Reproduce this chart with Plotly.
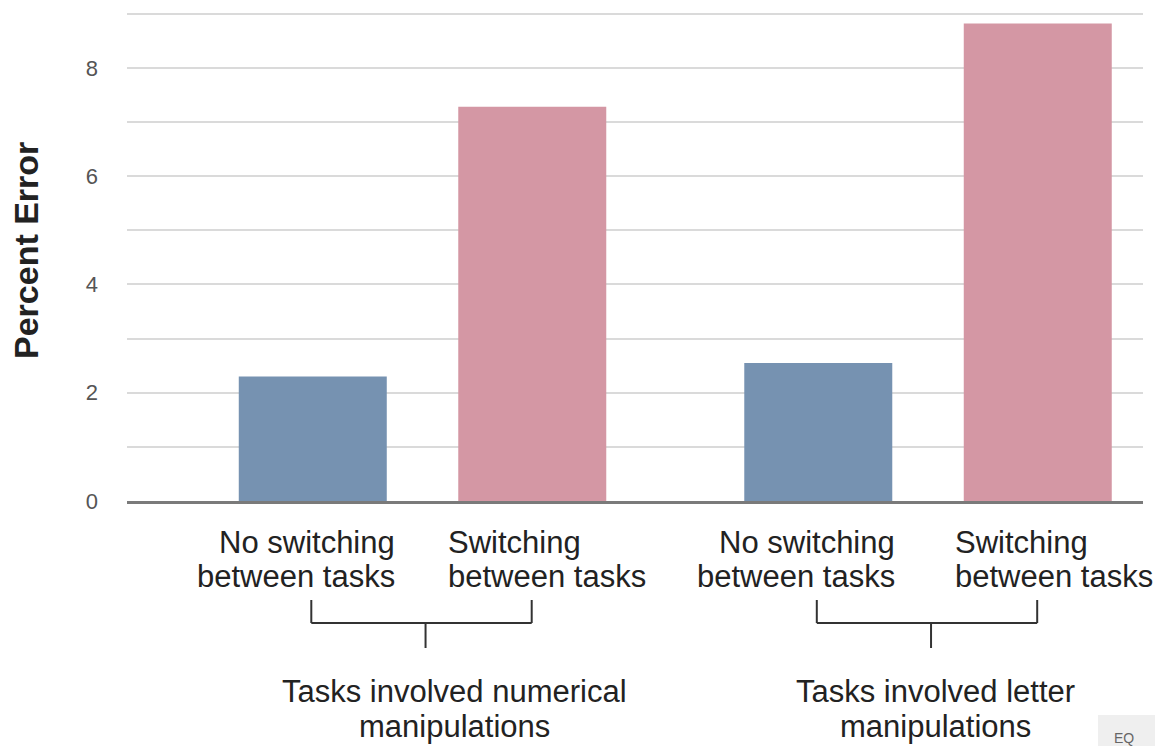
import plotly.graph_objects as go

# ---- data ----
groups = ["Tasks involved numerical manipulations", "Tasks involved letter manipulations"]
group_lines = [["Tasks involved numerical", "manipulations"], ["Tasks involved letter", "manipulations"]]
series_names = ["No switching between tasks", "Switching between tasks"]
series_lines = [["No switching", "between tasks"], ["Switching", "between tasks"]]
no_switching = [2.3, 2.55]
switching = [7.28, 8.82]
series_values = [no_switching, switching]
series_colors = ["#7692B1", "#D497A4"]
y_ticks = [0, 2, 4, 6, 8]

W, H = 1155, 746
PLOT_TOP, PLOT_BOTTOM = 11, 501
PH = PLOT_BOTTOM - PLOT_TOP


def py(p):
    """pixel row -> paper y"""
    return (PLOT_BOTTOM - p) / PH


FONT = "Liberation Sans, Arial, sans-serif"
TXT = dict(family=FONT, size=31, color="#222222")

fig = go.Figure()
for name, vals, col in zip(series_names, series_values, series_colors):
    fig.add_trace(go.Bar(x=list(range(len(groups))), y=vals, name=name,
                         marker=dict(color=col, line=dict(width=0)),
                         hoverinfo="skip"))

annotations = []
shapes = []
right_off = [-0.051, -0.061]
left_off = [0.047, 0.049]
group_off = [0.063, 0.015]
for gi in range(len(groups)):
    # category labels
    for li, txt in enumerate(series_lines[0]):
        annotations.append(dict(x=gi + right_off[gi], y=py(542 + li * 34), xref="x", yref="paper",
                                text=txt, showarrow=False, xanchor="right", yanchor="middle", font=TXT))
    for li, txt in enumerate(series_lines[1]):
        annotations.append(dict(x=gi + left_off[gi], y=py(542 + li * 34), xref="x", yref="paper",
                                text=txt, showarrow=False, xanchor="left", yanchor="middle", font=TXT))
    # bracket
    lx, rx, cx = gi - 0.22, gi + 0.216, gi + 0.006
    line = dict(color="#333333", width=2)
    shapes.append(dict(type="line", xref="x", yref="paper", x0=lx, x1=rx, y0=py(623), y1=py(623), line=line))
    shapes.append(dict(type="line", xref="x", yref="paper", x0=lx, x1=lx, y0=py(600), y1=py(623), line=line))
    shapes.append(dict(type="line", xref="x", yref="paper", x0=rx, x1=rx, y0=py(600), y1=py(623), line=line))
    shapes.append(dict(type="line", xref="x", yref="paper", x0=cx, x1=cx, y0=py(623), y1=py(648), line=line))
    # group label
    for li, txt in enumerate(group_lines[gi]):
        annotations.append(dict(x=gi + group_off[gi], y=py(691 + li * 35), xref="x", yref="paper",
                                text=txt, showarrow=False, xanchor="center", yanchor="middle", font=TXT))

# y-axis title
annotations.append(dict(x=(26 - 127) / 1016, y=py(251), xref="paper", yref="paper",
                        text="<b>Percent Error</b>", textangle=-90, showarrow=False,
                        xanchor="center", yanchor="middle",
                        font=dict(family=FONT, size=34, color="#222222")))

# corner box
shapes.append(dict(type="rect", xref="paper", yref="paper", x0=(1098 - 127) / 1016, x1=(1170 - 127) / 1016,
                   y0=py(760), y1=py(715), fillcolor="#EFEFEF", line=dict(width=0), layer="below"))
annotations.append(dict(x=(1112 - 127) / 1016, y=py(728), xref="paper", yref="paper", text="EQ",
                        showarrow=False, xanchor="left", yanchor="top",
                        font=dict(family=FONT, size=14, color="#666666")))

fig.update_layout(
    width=W, height=H,
    margin=dict(l=127, r=W - 1143, t=PLOT_TOP, b=H - PLOT_BOTTOM, pad=0),
    paper_bgcolor="white", plot_bgcolor="white",
    barmode="group", bargap=0.1316, bargroupgap=0.3257,
    showlegend=False,
    xaxis=dict(range=[-0.5846, 1.4253], showticklabels=False, showgrid=False,
               zeroline=False, showline=True, linecolor="#7a7a7a", linewidth=3, ticks=""),
    yaxis=dict(range=[0, 9.05], tickvals=y_ticks, showgrid=True, gridcolor="#DADADA", gridwidth=2,
               minor=dict(dtick=1, showgrid=True, gridcolor="#DADADA", gridwidth=2),
               zeroline=False, showline=False, ticks="", ticklabelstandoff=28,
               tickfont=dict(family=FONT, size=22, color="#555555")),
    annotations=annotations, shapes=shapes,
)

fig.write_html("out.html")
